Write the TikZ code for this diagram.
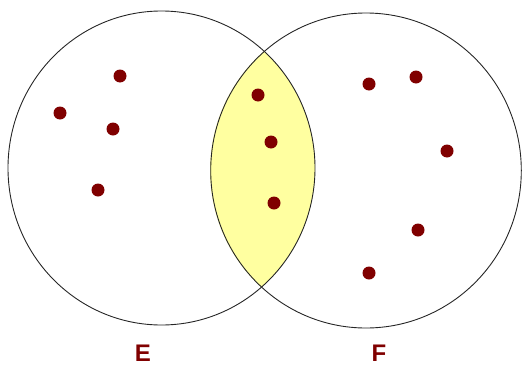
\documentclass[tikz,border=0pt]{standalone}
\usepackage{fontspec}
\setmainfont{Liberation Sans}
\definecolor{dotred}{RGB}{128,0,0}
\definecolor{lensyellow}{RGB}{255,255,160}
\tikzset{
  setline/.style={draw=black!85, line width=0.9pt},
  elem/.style={circle, fill=dotred, inner sep=0pt, minimum size=13pt},
  setlabel/.style={text=dotred, font=\fontsize{24}{28}\selectfont\bfseries, anchor=base, inner sep=0pt}
}
\begin{document}
\begin{tikzpicture}[x=1pt,y=-1pt]
\useasboundingbox (0,0) rectangle (522,367);
% intersection fill
\begin{scope}
  \clip (161.5,168) ellipse [x radius=153.5, y radius=157];
  \fill[lensyellow] (366,170.5) ellipse [x radius=156, y radius=157.5];
\end{scope}
\draw[setline] (161.5,168) ellipse [x radius=153.5, y radius=157];
\draw[setline] (366,170.5) ellipse [x radius=155.3, y radius=157.5];
% elements
\node[elem] (e1) at (120,76) {};
\node[elem] (e2) at (60,113) {};
\node[elem] (e3) at (113,129) {};
\node[elem] (e4) at (98,190) {};
\node[elem] (c1) at (258,95) {};
\node[elem] (c2) at (271,142) {};
\node[elem] (c3) at (274,203) {};
\node[elem] (f1) at (369,84) {};
\node[elem] (f2) at (416,77) {};
\node[elem] (f3) at (447,151) {};
\node[elem] (f4) at (418,230) {};
\node[elem] (f5) at (369,273) {};
% labels
\node[setlabel] (E) at (143,361) {E};
\node[setlabel] (F) at (379,361) {F};
\end{tikzpicture}
\end{document}
